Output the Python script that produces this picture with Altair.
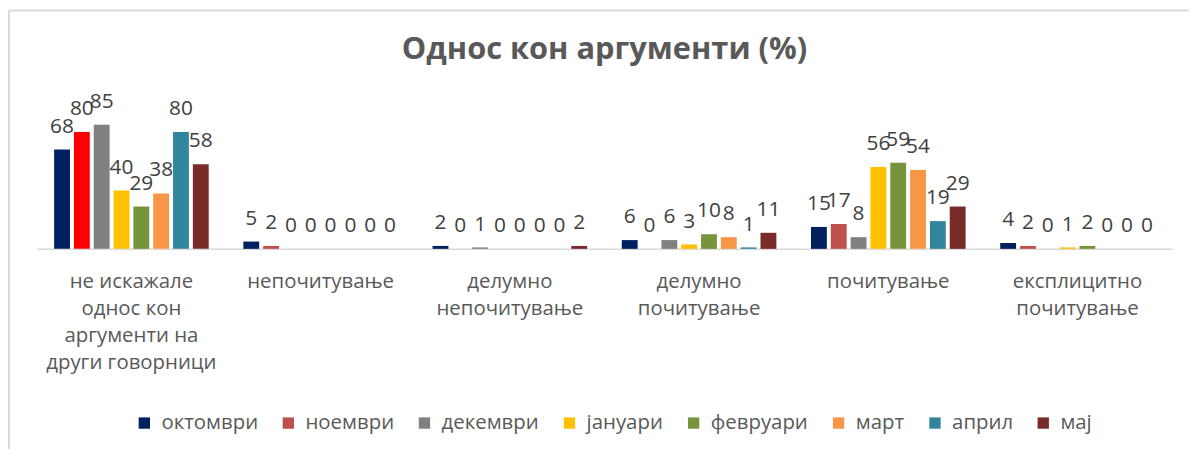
import altair as alt
import pandas as pd

categories = [
    "не искажале|однос кон|аргументи на|други говорници",
    "непочитување",
    "делумно|непочитување",
    "делумно|почитување",
    "почитување",
    "експлицитно|почитување",
]
months = ["октомври", "ноември", "декември", "јануари", "февруари", "март", "април", "мај"]
colors = ["#002060", "#C0504D", "#808080", "#FFC000", "#77933C", "#F79646", "#31859C", "#772C2A"]

v_oktomvri = [68, 5, 2, 6, 15, 4]
v_noemvri = [80, 2, 0, 0, 17, 2]
v_dekemvri = [85, 0, 1, 6, 8, 0]
v_januari = [40, 0, 0, 3, 56, 1]
v_fevruari = [29, 0, 0, 10, 59, 2]
v_mart = [38, 0, 0, 8, 54, 0]
v_april = [80, 0, 0, 1, 19, 0]
v_maj = [58, 0, 2, 11, 29, 0]

series = [v_oktomvri, v_noemvri, v_dekemvri, v_januari, v_fevruari, v_mart, v_april, v_maj]
rows = []
for m, vals in zip(months, series):
    for ci, (c, v) in enumerate(zip(categories, vals)):
        rows.append({"cat": c, "ci": ci, "month": m, "value": v})
df = pd.DataFrame(rows)

FONT = "Open Sans"
GREY = "#595959"

x = alt.X("cat:N", sort=categories, title=None,
          scale=alt.Scale(paddingInner=0.183, paddingOuter=0.0915),
          axis=alt.Axis(labelExpr="split(datum.label, '|')", labelAngle=0,
                        labelFontSize=20.5, labelColor=GREY, labelFont=FONT,
                        labelLineHeight=27, labelPadding=23, labelLimit=0,
                        ticks=False, domainColor="#D9D9D9", domainWidth=1.5,
                        labelBaseline="top"))
xo = alt.XOffset("month:N", sort=months, scale=alt.Scale(paddingInner=0.2, paddingOuter=0))
y = alt.Y("value:Q", scale=alt.Scale(domain=[0, 100]), axis=None)

color = alt.condition(
    "datum.ci == 0 && datum.month == 'ноември'",
    alt.value("#FF0000"),
    alt.Color("month:N", sort=months,
              scale=alt.Scale(domain=months, range=colors),
              legend=alt.Legend(title=None, orient="none", direction="horizontal",
                                legendX=98, legendY=312, columns=8,
                                symbolType="square", symbolSize=130,
                                symbolStrokeWidth=0, symbolOpacity=1,
                                labelFontSize=20.5, labelColor=GREY, labelFont=FONT,
                                columnPadding=20, labelOffset=7)),
)

bars = alt.Chart(df).mark_bar().encode(x=x, xOffset=xo, y=y, color=color)

labels = alt.Chart(df).mark_text(baseline="alphabetic", dy=-17, fontSize=21,
                                  font=FONT, color="#404040").encode(
    x=x, xOffset=xo, y=y, text=alt.Text("value:Q"))

frame_df = pd.DataFrame({"k": [0]})
left_border = alt.Chart(frame_df).mark_rule(color="#D9D9D9", strokeWidth=2).encode(
    x=alt.value(-28), y=alt.value(-93), y2=alt.value(360))
top_border = alt.Chart(frame_df).mark_rule(color="#D9D9D9", strokeWidth=2).encode(
    x=alt.value(-28), x2=alt.value(1160), y=alt.value(-93))

chart = alt.layer(bars, labels, left_border, top_border).properties(
    width=1143, height=147,
    autosize=alt.AutoSizeParams(type="none"),
    padding={"left": 29, "top": 94, "right": 18, "bottom": 200},
    title=alt.Title("Однос кон аргументи (%)", fontSize=31, fontWeight="bold",
                    color=GREY, font=FONT, anchor="middle", frame="group",
                    offset=40, dy=97),
).configure_view(stroke=None)

chart.save("out.html", embed_options={"renderer": "svg", "actions": False})
